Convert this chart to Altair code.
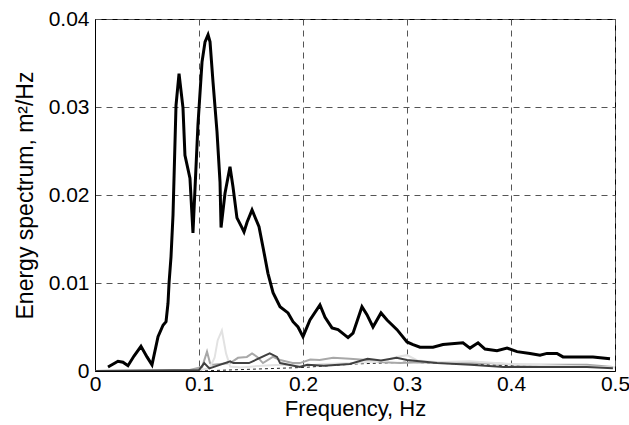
import altair as alt
import pandas as pd

# Main (black) spectrum
main_f = [0.0125, 0.0221, 0.0269, 0.0317, 0.0375, 0.0442, 0.0500, 0.0548, 0.0606, 0.0654,
          0.0683, 0.0702, 0.0712, 0.0731, 0.0750, 0.0779, 0.0808, 0.0846, 0.0865, 0.0913,
          0.0942, 0.0990, 0.1029, 0.1058, 0.1087, 0.1106, 0.1135, 0.1173, 0.1202, 0.1212,
          0.1250, 0.1298, 0.1327, 0.1365, 0.1413, 0.1433, 0.1462, 0.1510, 0.1538, 0.1577,
          0.1615, 0.1663, 0.1712, 0.1779, 0.1856, 0.1904, 0.1952, 0.2000, 0.2067, 0.2163,
          0.2212, 0.2279, 0.2337, 0.2433, 0.2481, 0.2567, 0.2615, 0.2673, 0.2750, 0.2808,
          0.2904, 0.3000, 0.3058, 0.3125, 0.3250, 0.3346, 0.3538, 0.3606, 0.3683, 0.3750,
          0.3865, 0.3962, 0.4058, 0.4183, 0.4279, 0.4346, 0.4442, 0.4500, 0.4635, 0.4788,
          0.4952]
main_e = [0.00045, 0.0011, 0.0010, 0.0006, 0.0017, 0.0028, 0.0016, 0.0007, 0.0039, 0.0052,
          0.0056, 0.0077, 0.0100, 0.0130, 0.0177, 0.0302, 0.0338, 0.0299, 0.0245, 0.0219,
          0.0157, 0.0280, 0.0351, 0.0374, 0.0382, 0.0374, 0.0328, 0.0272, 0.0215, 0.0163,
          0.0202, 0.0232, 0.0209, 0.0174, 0.0163, 0.0158, 0.0169, 0.0183, 0.0175, 0.0164,
          0.0141, 0.0111, 0.0089, 0.0073, 0.0066, 0.0056, 0.0050, 0.0039, 0.0058, 0.0075,
          0.0061, 0.0049, 0.0047, 0.0038, 0.0043, 0.0073, 0.0064, 0.0050, 0.0066, 0.0058,
          0.0047, 0.0033, 0.0030, 0.0027, 0.0027, 0.0030, 0.0032, 0.0026, 0.0032, 0.0025,
          0.0023, 0.0026, 0.0022, 0.0020, 0.0018, 0.0020, 0.0020, 0.0016, 0.0016, 0.0016,
          0.0014]

# Light grey spectrum
light_f = [0.0, 0.10, 0.11, 0.115, 0.118, 0.122, 0.126, 0.13, 0.14, 0.16, 0.18, 0.2, 0.22,
           0.25, 0.28, 0.29, 0.3, 0.31, 0.33, 0.36, 0.4, 0.45, 0.5]
light_e = [0.0, 0.0001, 0.0003, 0.0015, 0.0035, 0.0046, 0.002, 0.0005, 0.0004, 0.0006, 0.0007,
           0.0006, 0.0008, 0.0009, 0.0012, 0.0016, 0.0018, 0.0012, 0.0010, 0.0011, 0.0008,
           0.0006, 0.0004]

# Medium grey spectrum
mid_f = [0.0, 0.09, 0.103, 0.1077, 0.1106, 0.1135, 0.130, 0.1375, 0.146, 0.151, 0.156, 0.1615,
         0.171, 0.178, 0.190, 0.197, 0.207, 0.216, 0.229, 0.245, 0.2615, 0.277, 0.293, 0.3125,
         0.344, 0.377, 0.409, 0.440, 0.473, 0.498]
mid_e = [0.0, 0.0001, 0.00045, 0.0022, 0.0009, 0.0007, 0.0009, 0.0015, 0.0016, 0.0020, 0.0016,
         0.0009, 0.0016, 0.00125, 0.0009, 0.0009, 0.0013, 0.00125, 0.0015, 0.0014, 0.00125,
         0.0010, 0.0009, 0.0010, 0.0009, 0.0009, 0.0007, 0.0007, 0.0007, 0.00045]

# Dark grey spectrum
dark_f = [0.0, 0.1, 0.105, 0.11, 0.13, 0.133, 0.148, 0.168, 0.175, 0.178, 0.197, 0.204, 0.22,
          0.245, 0.262, 0.275, 0.29, 0.30, 0.329, 0.361, 0.393, 0.426, 0.473, 0.498]
dark_e = [0.0, 0.0001, 0.0009, 0.0003, 0.0011, 0.0009, 0.0009, 0.0020, 0.0016, 0.0009, 0.00045,
          0.0007, 0.0006, 0.0008, 0.0014, 0.0012, 0.0015, 0.00125, 0.0009, 0.0007, 0.00045,
          0.00045, 0.00045, 0.0003]

# Thin dashed spectrum
dash_f = [0.1, 0.15, 0.2, 0.25, 0.3, 0.35, 0.4, 0.5]
dash_e = [0.0, 0.0002, 0.0004, 0.0008, 0.0010, 0.0008, 0.0006, 0.0004]

x_ticks = [0, 0.1, 0.2, 0.3, 0.4, 0.5]
y_ticks = [0, 0.01, 0.02, 0.03, 0.04]

FONT = "Liberation Sans"

xscale = alt.Scale(domain=[0, 0.5], nice=False, zero=False)
yscale = alt.Scale(domain=[0, 0.04], nice=False)

xaxis = alt.Axis(values=x_ticks, format="~g", title="Frequency, Hz", grid=True,
                 gridColor="#555555", gridDash=[6, 5], gridWidth=1, ticks=False,
                 domainColor="black", labelFont=FONT, labelFontSize=21, labelColor="black",
                 labelPadding=2, titleFont=FONT, titleFontSize=22, titleFontWeight="normal",
                 titleColor="black", titleY=44, titleBaseline="alphabetic", labelFlush=False)
yaxis = alt.Axis(values=y_ticks, format="~g", title="Energy spectrum, m²/Hz", grid=True,
                 gridColor="#555555", gridDash=[6, 5], gridWidth=1, ticks=False,
                 domainColor="black", labelFont=FONT, labelFontSize=21, labelColor="black",
                 labelPadding=6, titleFont=FONT, titleFontSize=23, titleFontWeight="normal",
                 titleColor="black", titleX=-70, titleBaseline="middle", labelFlush=False)


def line(fs, es, color, width, dash=None):
    df = pd.DataFrame({"f": fs, "e": es})
    kw = dict(color=color, strokeWidth=width, clip=True, interpolate="linear")
    if dash:
        kw["strokeDash"] = dash
    return alt.Chart(df).mark_line(**kw).encode(
        x=alt.X("f:Q", scale=xscale, axis=xaxis),
        y=alt.Y("e:Q", scale=yscale, axis=yaxis),
    )


chart = alt.layer(
    line(dash_f, dash_e, "#222222", 1, [3, 3]),
    line(mid_f, mid_e, "#a8a8a8", 2),
    line(light_f, light_e, "#e2e2e2", 2),
    line(dark_f, dark_e, "#404040", 2),
    line(main_f, main_e, "black", 3),
).properties(
    width=520, height=352,
    autosize=alt.AutoSizeParams(type="none"),
    padding={"left": 95, "top": 19, "right": 14, "bottom": 54},
    background="white",
).configure_view(stroke="black", strokeWidth=1)

chart.save("out.html", embed_options={"renderer": "svg", "actions": False})
